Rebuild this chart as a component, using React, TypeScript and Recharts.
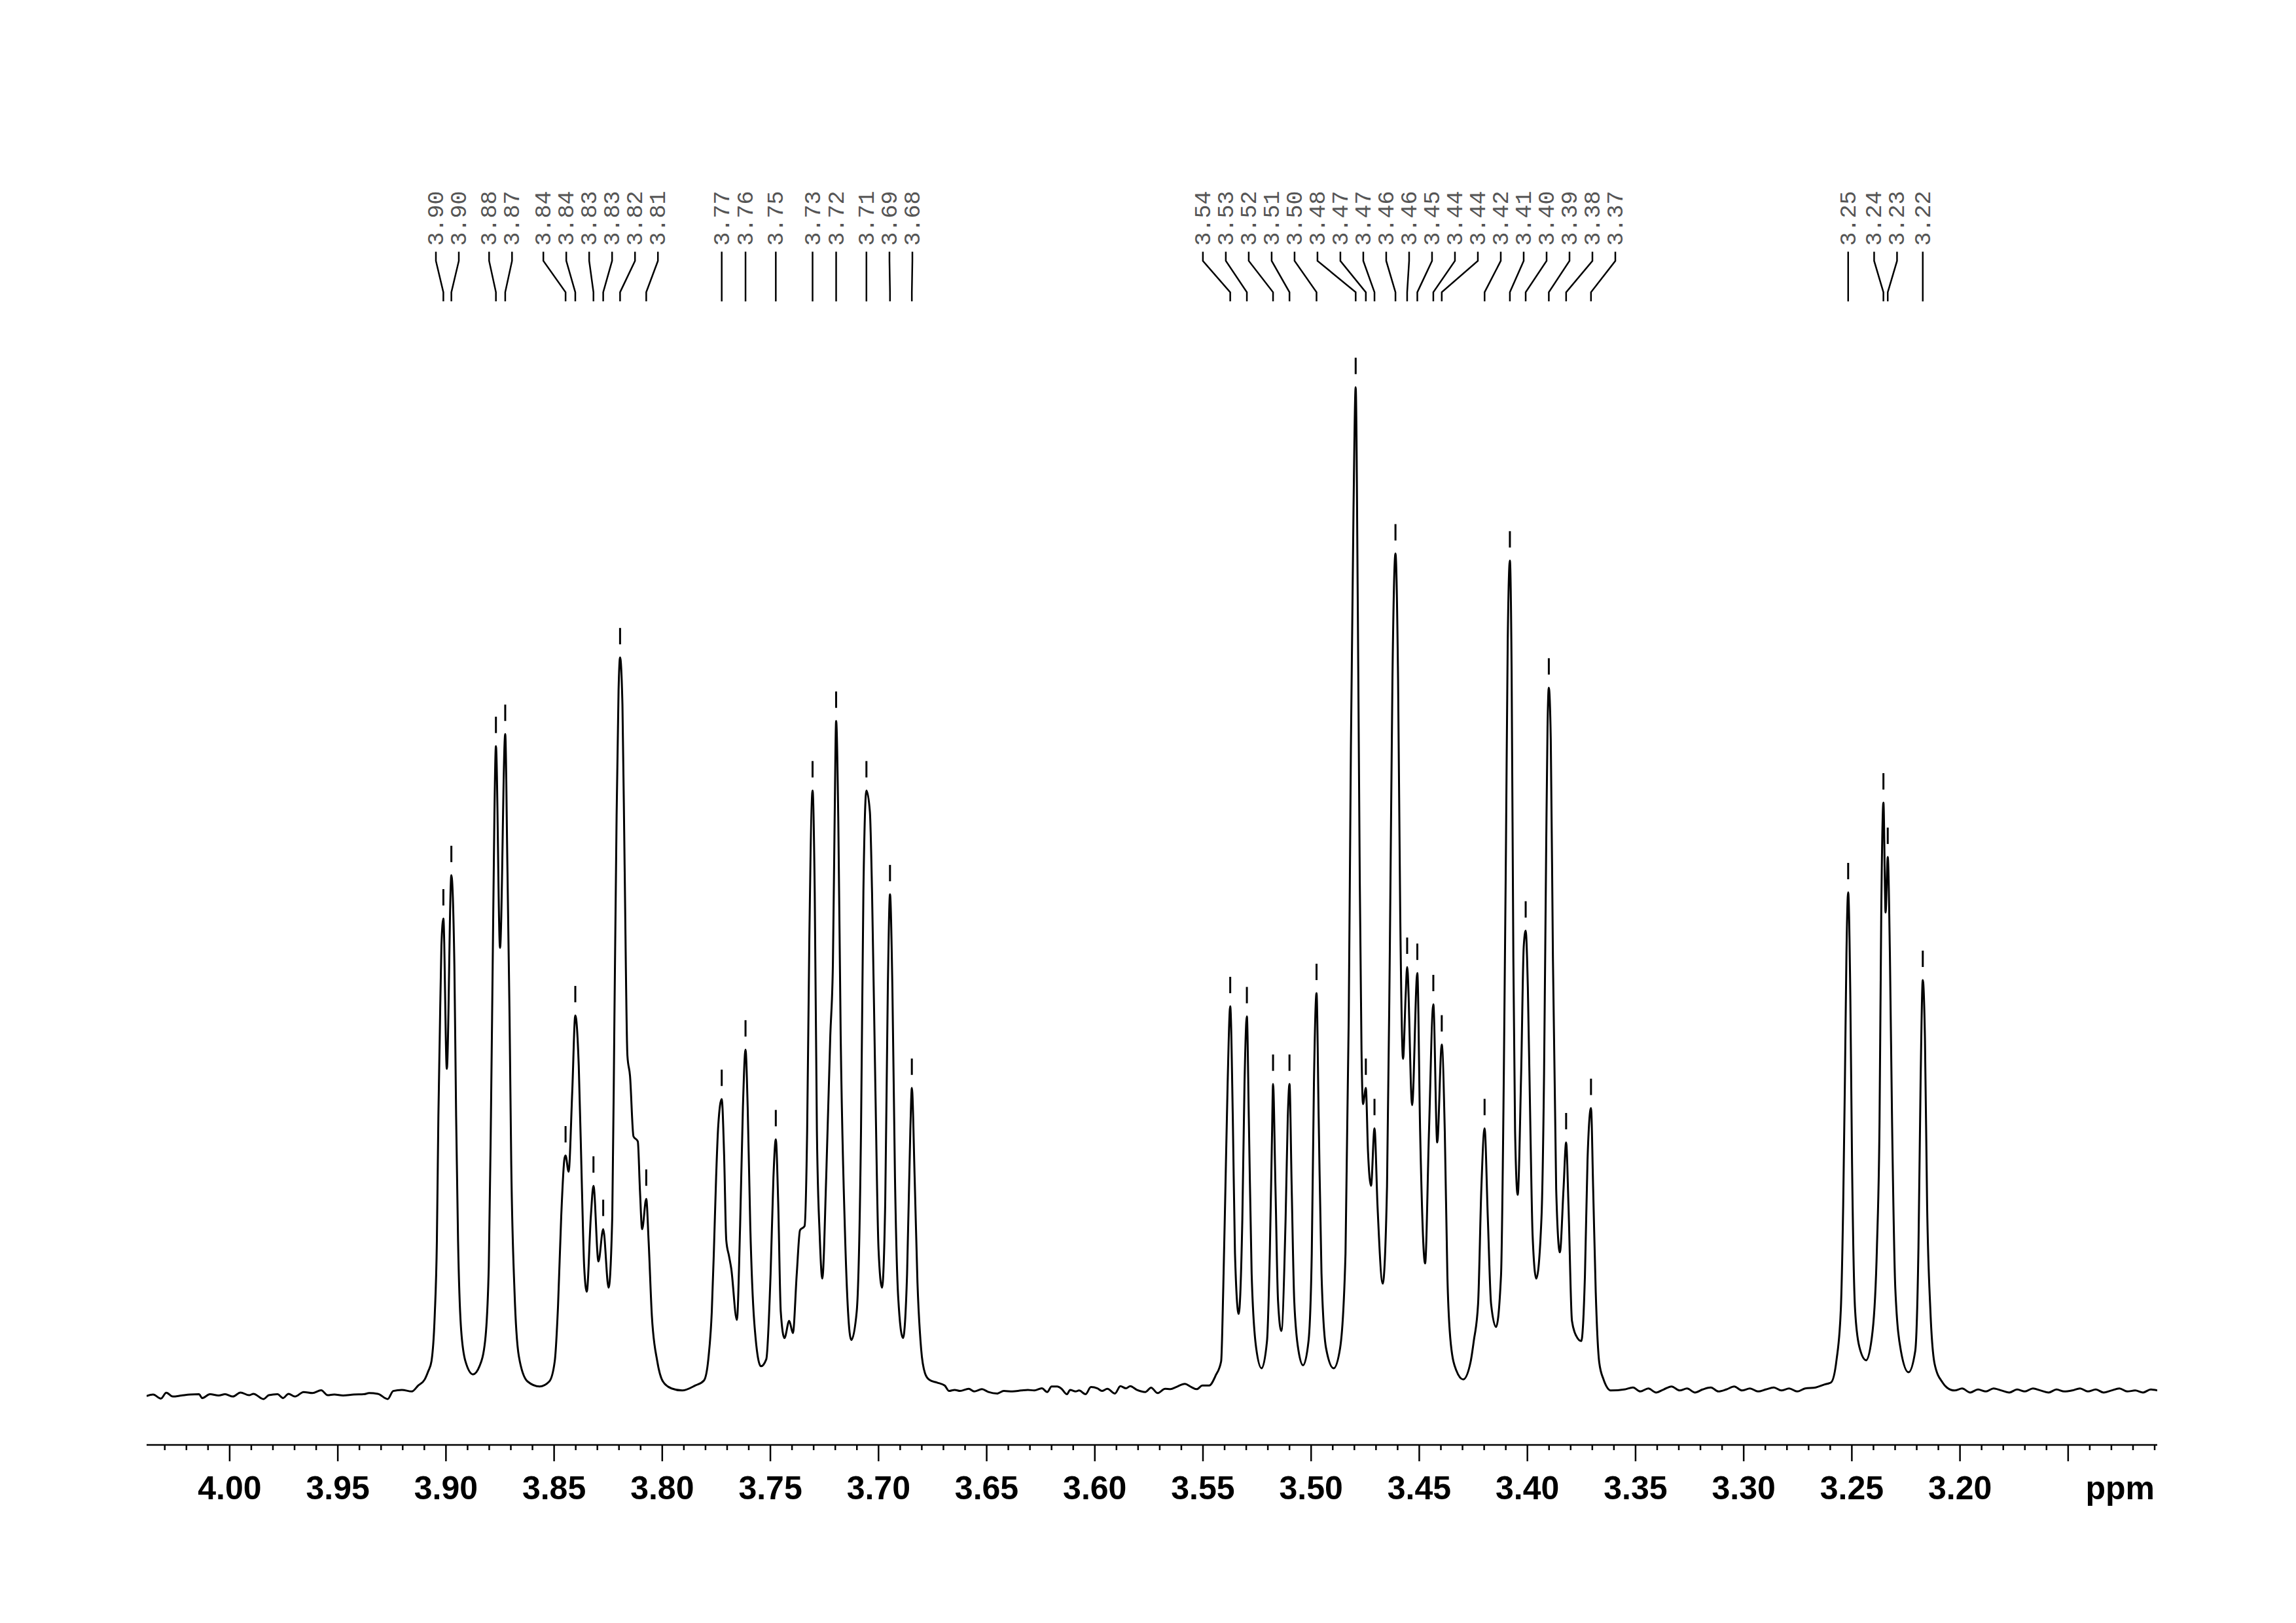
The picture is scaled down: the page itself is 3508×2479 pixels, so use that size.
import React from 'react';
import { ComposedChart, Line, Scatter, XAxis, YAxis } from 'recharts';

// spectrum: [ppm, intensity], 3.48 ppm line = 100
const multipletsLow: [number, number][] = [
  [4.0384, -0.05], [4.0354, 0.1], [4.0318, -0.3], [4.0293, 0.28], [4.0263, -0.1], [4.0223, 0.0],
  [4.0182, 0.1], [4.0142, 0.13], [4.0127, -0.25], [4.0091, 0.13], [4.0051, 0.0], [4.0021, 0.13],
  [3.9985, -0.1], [3.995, 0.3], [3.991, 0.03], [3.989, 0.17], [3.9844, -0.35], [3.9819, 0.03],
  [3.9779, 0.13], [3.9753, -0.25], [3.9728, 0.17], [3.9698, -0.1], [3.9658, 0.35], [3.9617, 0.24],
  [3.9577, 0.52], [3.9547, 0.03], [3.9516, 0.1], [3.9476, 0.0], [3.9426, 0.1], [3.938, 0.13],
  [3.9355, 0.24], [3.9315, 0.17], [3.9269, -0.35], [3.9244, 0.45], [3.9204, 0.56], [3.9158, 0.4],
  [3.9128, 1.0], [3.9098, 1.6], [3.9082, 2.4], [3.9067, 3.4], [3.9052, 7.9], [3.9042, 15.3],
  [3.9035, 27.7], [3.9029, 35.2], [3.9021, 44.6], [3.9012, 47.3], [3.8996, 32.4], [3.8975, 51.6],
  [3.8961, 42.6], [3.8953, 27.7], [3.8944, 15.3], [3.8931, 6.9], [3.891, 3.4], [3.8875, 2.1],
  [3.8845, 2.9], [3.8819, 5.4], [3.8802, 12.8], [3.8792, 27.7], [3.8784, 42.6], [3.8776, 57.5],
  [3.8769, 64.4], [3.875, 44.4], [3.8726, 65.6], [3.8716, 52.6], [3.8706, 37.7], [3.8698, 22.8],
  [3.8683, 10.3], [3.8663, 3.9], [3.8623, 1.4], [3.8567, 0.9], [3.8522, 1.4], [3.8497, 3.4],
  [3.8482, 8.8], [3.8467, 17.8], [3.8452, 23.5], [3.8447, 23.8], [3.8433, 22.2], [3.8416, 30.2],
  [3.8402, 37.7], [3.8386, 32.7], [3.8371, 20.3], [3.8361, 12.8], [3.8349, 10.3], [3.833, 17.8],
  [3.8318, 20.8], [3.8295, 13.3], [3.8273, 16.5], [3.8248, 10.7], [3.8231, 17.8], [3.8221, 37.7],
  [3.8211, 57.5], [3.8202, 69.9], [3.8195, 73.2], [3.8184, 68.5], [3.8174, 52.6], [3.8161, 33.7],
  [3.8149, 31.7], [3.8133, 25.7], [3.8113, 25.2], [3.8103, 20.3], [3.8093, 16.5], [3.8074, 19.5],
  [3.8063, 15.3], [3.8048, 7.9], [3.8023, 3.4], [3.7997, 1.4], [3.7957, 0.7], [3.7908, 0.5],
  [3.7847, 1.0], [3.7807, 1.5], [3.7787, 3.6], [3.7771, 8.3], [3.7761, 14.5], [3.7751, 21.6],
  [3.7741, 26.8], [3.7725, 29.4], [3.7714, 23.9], [3.7704, 15.4], [3.7691, 13.8], [3.7681, 12.6],
  [3.7655, 7.5], [3.764, 16.8], [3.7627, 28.6], [3.7615, 34.3], [3.7605, 28.6], [3.7593, 16.8],
  [3.7575, 7.4], [3.7544, 2.9], [3.7519, 3.6], [3.7499, 12.1], [3.7486, 21.6], [3.7475, 25.4],
  [3.7464, 19.2], [3.7452, 8.3], [3.7435, 5.7], [3.7413, 7.4], [3.7396, 6.2], [3.7378, 12.1],
  [3.7363, 16.4], [3.7342, 16.8], [3.733, 26.3], [3.732, 45.2], [3.7305, 60.0], [3.7295, 49.9],
  [3.7285, 26.3], [3.7272, 15.9], [3.726, 11.6], [3.7242, 21.6], [3.7223, 35.7], [3.7211, 42.8],
  [3.7203, 57.0], [3.7196, 66.9], [3.7186, 57.0], [3.7175, 35.7], [3.7156, 16.8], [3.7126, 5.5],
  [3.7101, 8.3], [3.7081, 26.3], [3.707, 49.9], [3.7056, 60.0], [3.704, 57.9], [3.703, 49.9],
  [3.7015, 31.0], [3.7, 14.5], [3.6984, 10.7], [3.6969, 19.2], [3.6957, 40.5], [3.6947, 49.7],
  [3.6936, 40.5], [3.6924, 21.6], [3.6909, 9.7], [3.6887, 5.7], [3.6868, 12.1], [3.6853, 26.3],
  [3.6846, 30.5], [3.6833, 21.6], [3.682, 11.2], [3.6803, 4.6], [3.6785, 2.2], [3.6764, 1.54],
  [3.6729, 1.28],
];

const baselineMid: [number, number][] = [
  [3.6694, 0.99], [3.6674, 0.45], [3.6648, 0.56], [3.6623, 0.45], [3.6583, 0.67], [3.6558, 0.41],
  [3.6522, 0.63], [3.6492, 0.35], [3.6452, 0.2], [3.6421, 0.45], [3.6381, 0.41], [3.6341, 0.5],
  [3.631, 0.56], [3.628, 0.5], [3.6245, 0.71], [3.622, 0.35], [3.62, 0.89], [3.6174, 0.89],
  [3.6154, 0.67], [3.6129, 0.13], [3.6114, 0.56], [3.6089, 0.41], [3.6073, 0.5], [3.6043, 0.13],
  [3.6018, 0.84], [3.5988, 0.71], [3.5967, 0.45], [3.5942, 0.67], [3.5907, 0.2], [3.5882, 0.93],
  [3.5856, 0.71], [3.5836, 0.93], [3.5806, 0.56], [3.5766, 0.35], [3.574, 0.78], [3.571, 0.24],
  [3.5675, 0.67], [3.565, 0.63], [3.5624, 0.84], [3.5584, 1.15], [3.5554, 0.84], [3.5529, 0.63],
  [3.5503, 0.99],
];

const multipletsHigh: [number, number][] = [
  [3.5471, 1.0], [3.5441, 2.0], [3.5416, 3.4], [3.5406, 10.8], [3.5396, 20.8], [3.5386, 30.9],
  [3.5374, 38.6], [3.5362, 27.5], [3.5352, 14.1], [3.5335, 8.1], [3.5318, 17.5], [3.5308, 30.9],
  [3.5297, 37.6], [3.5288, 27.5], [3.5275, 12.1], [3.5254, 4.7], [3.5229, 2.7], [3.5204, 5.4],
  [3.5191, 14.1], [3.5181, 25.5], [3.5176, 30.9], [3.5165, 20.8], [3.5153, 9.4], [3.5138, 6.4],
  [3.5118, 17.5], [3.5108, 27.5], [3.51, 30.9], [3.509, 20.8], [3.5078, 9.4], [3.5058, 4.4],
  [3.5037, 3.0], [3.5012, 5.4], [3.4997, 14.1], [3.4987, 30.9], [3.4975, 39.9], [3.4965, 27.5],
  [3.4952, 12.1], [3.4931, 4.7], [3.4896, 2.7], [3.4866, 4.7], [3.4841, 14.1], [3.4826, 37.6],
  [3.4816, 64.4], [3.4804, 87.9], [3.4794, 100], [3.4784, 77.8], [3.4775, 51.0], [3.4767, 34.2],
  [3.476, 28.9], [3.4747, 30.5], [3.4737, 24.2], [3.4723, 20.8], [3.4707, 26.5], [3.4693, 18.8],
  [3.4669, 11.1], [3.4649, 20.8], [3.4636, 44.3], [3.4624, 71.1], [3.461, 83.5], [3.4598, 71.1],
  [3.4588, 47.7], [3.4575, 33.4], [3.4563, 39.6], [3.4556, 42.5], [3.4533, 28.8], [3.4509, 41.9],
  [3.4496, 26.2], [3.4473, 13.1], [3.4455, 26.2], [3.4435, 38.8], [3.4417, 25.1], [3.4396, 34.8],
  [3.4382, 26.2], [3.437, 11.9], [3.4354, 5.1], [3.4329, 2.5], [3.4297, 1.6], [3.4263, 3.3],
  [3.4248, 5.4], [3.4228, 9.1], [3.4213, 20.5], [3.4198, 26.5], [3.4183, 17.6], [3.4168, 9.1],
  [3.4145, 6.8], [3.4122, 11.9], [3.4109, 31.9], [3.4099, 54.8], [3.4091, 74.8], [3.4081, 82.8],
  [3.4073, 71.9], [3.4065, 43.4], [3.4057, 26.2], [3.4045, 19.9], [3.4029, 31.9], [3.4017, 44.5],
  [3.4008, 46.1], [3.3998, 40.5], [3.3986, 26.2], [3.3976, 15.9], [3.3959, 11.6], [3.3935, 17.6],
  [3.3923, 31.9], [3.3913, 54.8], [3.3907, 66.2], [3.3901, 70.2], [3.3892, 65.1], [3.3882, 43.4],
  [3.3867, 20.5], [3.385, 14.2], [3.3833, 20.5], [3.3821, 25.1], [3.381, 18.8], [3.3794, 7.4],
  [3.3774, 5.9], [3.3751, 5.4], [3.3734, 11.9], [3.3722, 23.4], [3.3706, 28.5], [3.3696, 20.5],
  [3.3684, 10.2], [3.3668, 3.3], [3.3648, 1.6], [3.3613, 0.5], [3.3552, 0.6],
];

const multipletsRight: [number, number][] = [
  [3.3512, 0.8], [3.3478, 0.4], [3.3441, 0.7], [3.3405, 0.3], [3.337, 0.6], [3.3334, 0.9],
  [3.3296, 0.5], [3.3262, 0.7], [3.3225, 0.3], [3.319, 0.6], [3.3152, 0.8], [3.3117, 0.4],
  [3.308, 0.6], [3.3044, 0.9], [3.3008, 0.5], [3.2971, 0.7], [3.2934, 0.4], [3.2898, 0.6],
  [3.2861, 0.8], [3.2826, 0.5], [3.279, 0.7], [3.2753, 0.4], [3.2716, 0.7], [3.2667, 0.8],
  [3.2626, 1.1], [3.2596, 1.3], [3.2571, 3.5], [3.2551, 8.5], [3.254, 18.9], [3.2532, 31.3],
  [3.2525, 43.7], [3.2517, 49.9], [3.2507, 39.6], [3.2499, 23.0], [3.2485, 8.5], [3.2465, 4.8],
  [3.2434, 3.5], [3.2404, 6.4], [3.2384, 14.7], [3.2372, 27.1], [3.2364, 47.9], [3.2354, 58.8],
  [3.2344, 47.9], [3.2334, 53.4], [3.2324, 43.7], [3.2314, 27.1], [3.2299, 10.6], [3.2273, 4.4],
  [3.2238, 2.3], [3.2207, 4.4], [3.2192, 14.7], [3.2182, 31.3], [3.2172, 41.2], [3.2162, 35.4],
  [3.2152, 18.9], [3.2137, 8.5], [3.2117, 3.1], [3.2081, 1.3], [3.2061, 0.8], [3.2025, 0.5],
  [3.199, 0.7], [3.1953, 0.3], [3.1917, 0.6], [3.188, 0.4], [3.1845, 0.7], [3.1808, 0.5],
  [3.1772, 0.3], [3.1736, 0.6], [3.17, 0.4], [3.1663, 0.7], [3.1627, 0.5], [3.159, 0.3],
  [3.1554, 0.6], [3.1518, 0.4], [3.1481, 0.5], [3.1445, 0.7], [3.1409, 0.4], [3.1372, 0.6],
  [3.1336, 0.3], [3.13, 0.5], [3.1263, 0.7], [3.1227, 0.4], [3.119, 0.5], [3.1154, 0.3],
  [3.1118, 0.6], [3.1088, 0.5],
];

// picked peaks
const peakPpm = [
  3.9012, 3.8975, 3.8769, 3.8726, 3.8447, 3.8402, 3.8318, 3.8273, 3.8195, 3.8074,
  3.7725, 3.7615, 3.7475, 3.7305, 3.7196, 3.7056, 3.6947, 3.6846,
  3.5374, 3.5297, 3.5176, 3.51, 3.4975, 3.4794, 3.4747, 3.4707, 3.461, 3.4556, 3.4509, 3.4435,
  3.4396, 3.4198, 3.4081, 3.4008, 3.3901, 3.3821, 3.3706,
  3.2517, 3.2354, 3.2334, 3.2172,
];
const peakHeight = [
  47.3, 51.6, 64.4, 65.6, 23.8, 37.7, 20.8, 16.5, 73.2, 19.5,
  29.4, 34.3, 25.4, 60.0, 66.9, 60.0, 49.7, 30.5,
  38.6, 37.6, 30.9, 30.9, 39.9, 100, 30.5, 26.5, 83.5, 42.5, 41.9, 38.8,
  34.8, 26.5, 82.8, 46.1, 70.2, 25.1, 28.5,
  49.9, 58.8, 53.4, 41.2,
];
const peakLabels = [
  '3.90', '3.90', '3.88', '3.87', '3.84', '3.84', '3.83', '3.83', '3.82', '3.81',
  '3.77', '3.76', '3.75', '3.73', '3.72', '3.71', '3.69', '3.68',
  '3.54', '3.53', '3.52', '3.51', '3.50', '3.48', '3.47', '3.47', '3.46', '3.46', '3.45', '3.44',
  '3.44', '3.42', '3.41', '3.40', '3.39', '3.38', '3.37',
  '3.25', '3.24', '3.23', '3.22',
];

const majorTicks = [4.0, 3.95, 3.9, 3.85, 3.8, 3.75, 3.7, 3.65, 3.6, 3.55, 3.5, 3.45, 3.4, 3.35, 3.3, 3.25, 3.2, 3.15];
const majorLabels = ['4.00', '3.95', '3.90', '3.85', '3.80', '3.75', '3.70', '3.65', '3.60', '3.55', '3.50', '3.45', '3.40', '3.35', '3.30', '3.25', '3.20', ''];

const X_DOMAIN: [number, number] = [3.1088, 4.0384];
const Y_DOMAIN: [number, number] = [-4.9, 121];
const PX_PER_PPM = 3304;
const LABEL_GAP = 35 / PX_PER_PPM; // label pitch in ppm

// connector heights (intensity units)
const LEAD_TOP = 113.44;
const LEAD_BEND1 = 112.53;
const LEAD_BEND2 = 109.42;
const LEAD_BOTTOM = 108.51;

const spectrum = [...multipletsLow, ...baselineMid, ...multipletsHigh, ...multipletsRight].map(
  ([ppm, y]) => ({ ppm, y }),
);

const minorTicks: number[] = [];
for (let k = 403; k >= 311; k--) minorTicks.push(k / 100);

// spread labels so they don't overlap, clusters centred on their peaks
function labelSlots(ppms: number[]): number[] {
  let clusters = ppms.map((p) => [p]);
  let merged = true;
  while (merged) {
    merged = false;
    const next: number[][] = [];
    for (const c of clusters) {
      const prev = next[next.length - 1];
      if (prev) {
        const pc = prev.reduce((a, b) => a + b, 0) / prev.length;
        const cc = c.reduce((a, b) => a + b, 0) / c.length;
        const prevRight = pc - ((prev.length - 1) / 2) * LABEL_GAP;
        const curLeft = cc + ((c.length - 1) / 2) * LABEL_GAP;
        if (prevRight - curLeft < LABEL_GAP - 1e-6) {
          next[next.length - 1] = [...prev, ...c];
          merged = true;
          continue;
        }
      }
      next.push(c);
    }
    clusters = next;
  }
  const out: number[] = [];
  for (const c of clusters) {
    const center = c.reduce((a, b) => a + b, 0) / c.length;
    c.forEach((_, i) => out.push(center + ((c.length - 1) / 2 - i) * LABEL_GAP));
  }
  return out;
}

const slots = labelSlots(peakPpm);
const markers = peakPpm.map((ppm, i) => ({ ppm, y: peakHeight[i] }));
const labelAnchors = peakPpm.map((_, i) => ({ ppm: slots[i], y: LEAD_TOP, label: peakLabels[i] }));
const leads = peakPpm.map((ppm, i) => [
  { ppm: slots[i], y: LEAD_TOP },
  { ppm: slots[i], y: LEAD_BEND1 },
  { ppm, y: LEAD_BEND2 },
  { ppm, y: LEAD_BOTTOM },
]);

const AXIS_FONT = '"Liberation Sans", Arial, sans-serif';

function AxisTick(props: any) {
  const { x, y, payload } = props;
  const idx = majorTicks.findIndex((m) => Math.abs(m - payload.value) < 1e-6);
  const major = idx >= 0;
  return (
    <g>
      <line x1={x} x2={x} y1={y} y2={y + (major ? 25 : 8)} stroke="#000" strokeWidth={2.5} />
      {major && majorLabels[idx] ? (
        <text x={x} y={y + 83} textAnchor="middle" fontFamily={AXIS_FONT} fontWeight={700} fontSize={50} fill="#000">
          {majorLabels[idx]}
        </text>
      ) : null}
    </g>
  );
}

function PeakMark(props: any) {
  const { cx, cy } = props;
  return <line x1={cx} x2={cx} y1={cy - 20} y2={cy - 45} stroke="#000" strokeWidth={3} />;
}

function PeakLabel(props: any) {
  const { cx, cy, payload } = props;
  return (
    <text
      transform={`translate(${cx + 11}, ${cy - 9}) rotate(-90)`}
      fontFamily='"Liberation Mono", "Courier New", monospace'
      fontSize={35}
      fill="#555"
    >
      {payload.label}
    </text>
  );
}

export default function App() {
  return (
    <div style={{ position: 'absolute', left: 0, top: 0, width: 3508, height: 2479, background: '#fff' }}>
      <ComposedChart width={3508} height={2479} margin={{ top: 268, right: 212, bottom: 172, left: 224 }}>
        <XAxis
          type="number"
          dataKey="ppm"
          domain={X_DOMAIN}
          reversed
          allowDataOverflow
          ticks={minorTicks}
          interval={0}
          tickLine={false}
          tickSize={0}
          tickMargin={0}
          tick={AxisTick}
          height={100}
          axisLine={{ stroke: '#000', strokeWidth: 2.5 }}
          label={{
            content: (p: any) => {
              const vb = p.viewBox || {};
              return (
                <text
                  x={vb.x + vb.width - 4}
                  y={vb.y + 83}
                  textAnchor="end"
                  fontFamily={AXIS_FONT}
                  fontWeight={700}
                  fontSize={50}
                  fill="#000"
                >
                  ppm
                </text>
              );
            },
          }}
        />
        <YAxis type="number" dataKey="y" domain={Y_DOMAIN} hide allowDataOverflow />
        <Line
          data={spectrum}
          dataKey="y"
          type="monotoneX"
          stroke="#000"
          strokeWidth={3}
          dot={false}
          isAnimationActive={false}
        />
        {leads.map((d, i) => (
          <Line
            key={`lead-${i}`}
            data={d}
            dataKey="y"
            type="linear"
            stroke="#000"
            strokeWidth={2.5}
            dot={false}
            isAnimationActive={false}
          />
        ))}
        <Scatter data={markers} dataKey="y" shape={PeakMark} isAnimationActive={false} />
        <Scatter data={labelAnchors} dataKey="y" shape={PeakLabel} isAnimationActive={false} />
      </ComposedChart>
    </div>
  );
}
